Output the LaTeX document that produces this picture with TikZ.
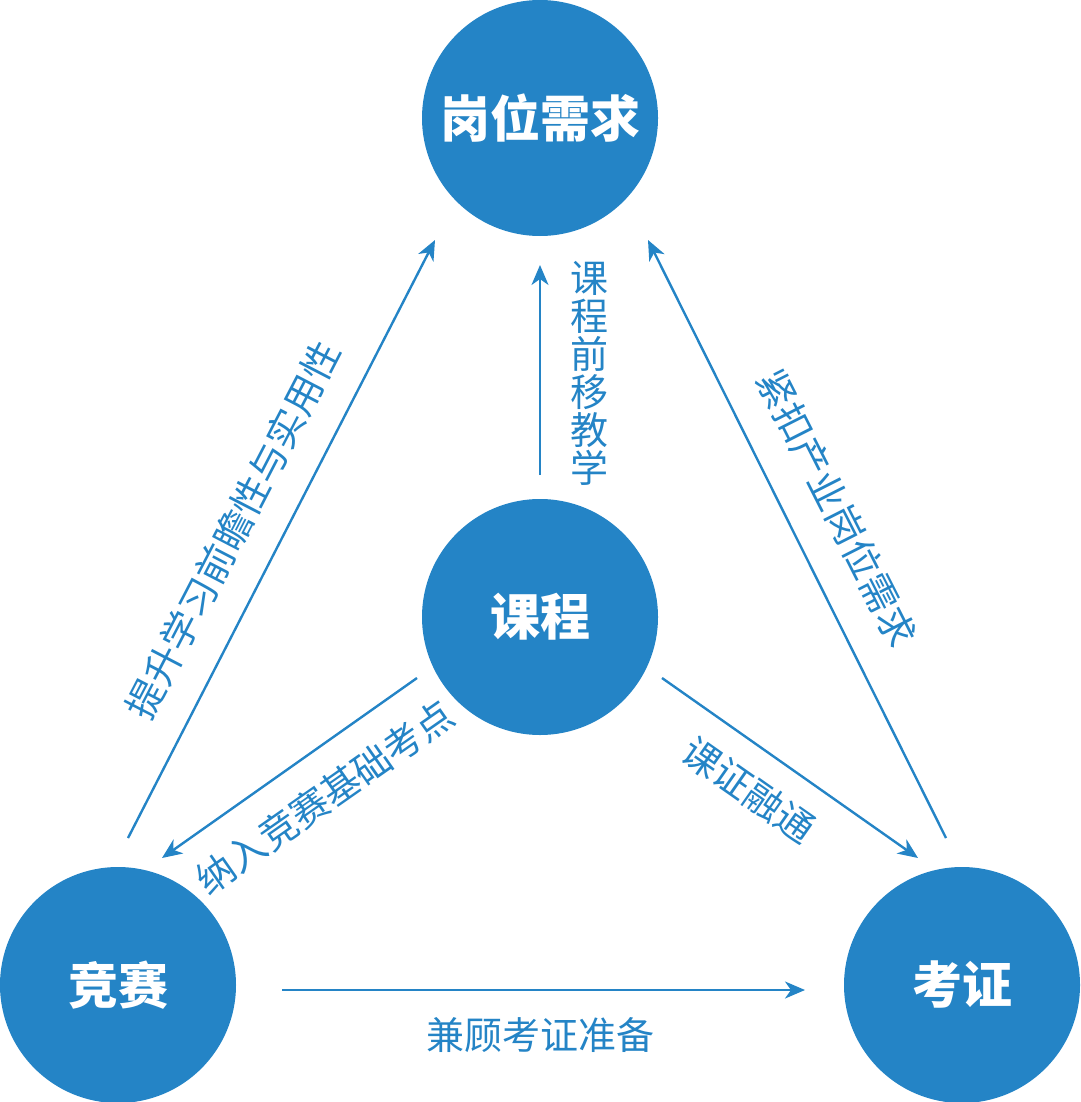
\documentclass[tikz,border=0pt]{standalone}
\usepackage{fontspec}
\setmainfont{Noto Sans CJK SC}
\usetikzlibrary{arrows.meta}
\definecolor{cblue}{RGB}{36,132,198}
\tikzset{
  hub/.style={circle, fill=cblue, minimum size=236pt, inner sep=0pt, text=white,
    font=\fontsize{50}{50}\selectfont\bfseries},
  link/.style={draw=cblue, line width=2.4pt, -{Stealth[length=20pt, width=17pt, inset=6pt]}},
  lab/.style={text=cblue, inner sep=0pt, font=\fontsize{38}{38}\selectfont}
}
\begin{document}
\begin{tikzpicture}[x=1pt, y=-1pt]
\useasboundingbox (0,0) rectangle (1080,1102);
% hubs
\node[hub] (gw) at (540,118) {岗位需求};
\node[hub] (kc) at (540,617) {课程};
\node[hub] (js) at (118,985) {竞赛};
\node[hub] (kz) at (962,985) {考证};
% connector end points
\coordinate (l1) at (128,838);  \coordinate (l2) at (435,240);
\coordinate (v1) at (540,475);  \coordinate (v2) at (540,265);
\coordinate (r1) at (946,838);  \coordinate (r2) at (648,240);
\coordinate (cl1) at (417,678); \coordinate (cl2) at (162,858);
\coordinate (cr1) at (662,678); \coordinate (cr2) at (918,858);
\coordinate (b1) at (282,990);  \coordinate (b2) at (805,990);
% connectors
\draw[link] (l1) -- (l2);
\draw[link] (v1) -- (v2);
\draw[link] (r1) -- (r2);
\draw[link] (cl1) -- (cl2);
\draw[link] (cr1) -- (cr2);
\draw[link] (b1) -- (b2);
% labels
\node[lab, rotate=62.6] (tl) at (233,530) {提升学习前瞻性与实用性};
\node[lab, align=center, font=\fontsize{38}{38}\selectfont] (tv) at (589,373) {课\\程\\前\\移\\教\\学};
\node[lab, rotate=-63.1] (tr) at (837,508) {紧扣产业岗位需求};
\node[lab, rotate=35] (tcl) at (325,797) {纳入竞赛基础考点};
\node[lab, rotate=-35] (tcr) at (749,790) {课证融通};
\node[lab] (tb) at (540,1035) {兼顾考证准备};
\end{tikzpicture}
\end{document}
